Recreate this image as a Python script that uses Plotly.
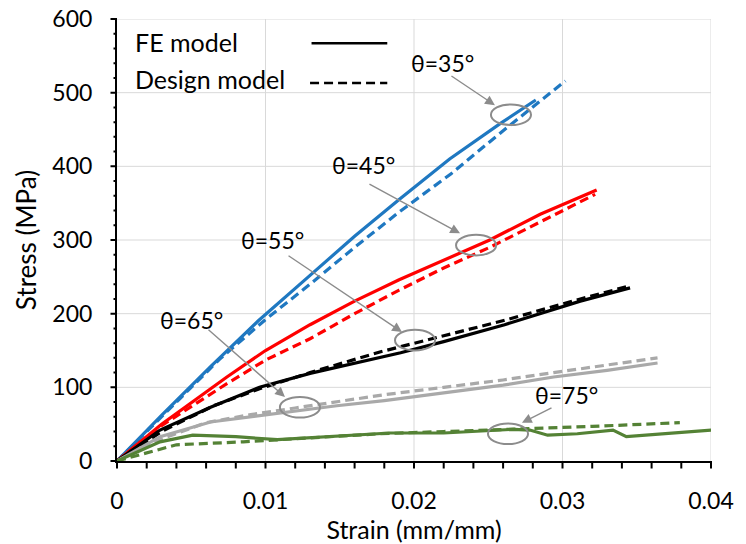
import plotly.graph_objects as go

# ---------------- data ----------------
fe35_x = [0, 0.003, 0.0063, 0.0095, 0.013, 0.016, 0.019, 0.0224, 0.0258, 0.0282]
fe35_y = [0, 62, 128, 190, 252, 305, 355, 410, 458, 490]
dm35_x = [0, 0.0035, 0.0069, 0.010, 0.013, 0.016, 0.019, 0.0225, 0.0258, 0.0302]
dm35_y = [0, 70, 138, 192, 240, 290, 338, 390, 445, 516]

fe45_x = [0, 0.003, 0.0074, 0.010, 0.013, 0.016, 0.019, 0.022, 0.0251, 0.0285, 0.0323]
fe45_y = [0, 50, 114, 150, 185, 217, 246, 273, 300, 335, 368]
dm45_x = [0, 0.003, 0.0074, 0.010, 0.013, 0.016, 0.019, 0.022, 0.0251, 0.0285, 0.0322]
dm45_y = [0, 48, 105, 137, 166, 200, 232, 262, 290, 325, 362]

fe55_x = [0, 0.0029, 0.0063, 0.0096, 0.013, 0.0177, 0.0191, 0.022, 0.0261, 0.0312, 0.03455]
fe55_y = [0, 42, 73, 100, 119, 141, 147, 162, 185, 217, 235]
dm55_x = [0, 0.003, 0.0065, 0.0096, 0.013, 0.0177, 0.022, 0.0261, 0.0312, 0.0344]
dm55_y = [0, 40, 75, 98, 120, 148, 170, 191, 220, 237]

fe65_x = [0, 0.0029, 0.0063, 0.0108, 0.0148, 0.018, 0.022, 0.026, 0.0294, 0.033, 0.0364]
fe65_y = [0, 33, 53, 65, 75, 82, 92, 103, 114, 123, 133]
dm65_x = [0, 0.003, 0.006, 0.009, 0.012, 0.018, 0.022, 0.026, 0.0294, 0.033, 0.0364]
dm65_y = [0, 30, 52, 63, 72, 90, 100, 110, 120, 130, 140]

fe75_x = [0, 0.0029, 0.0051, 0.008, 0.0108, 0.0145, 0.0184, 0.022, 0.0267, 0.0278,
          0.029, 0.031, 0.0334, 0.0343, 0.037, 0.0401]
fe75_y = [0, 26, 35, 33, 29, 33, 38, 38, 43, 42, 35, 37, 42, 33, 37, 42]
dm75_x = [0, 0.004, 0.0085, 0.013, 0.0177, 0.022, 0.0267, 0.032, 0.0379]
dm75_y = [0, 22, 26, 31, 37, 40, 43, 47, 52]

x_ticks = [0, 0.01, 0.02, 0.03, 0.04]
x_tick_labels = ["0", "0.01", "0.02", "0.03", "0.04"]
y_ticks = [0, 100, 200, 300, 400, 500, 600]
y_tick_labels = ["0", "100", "200", "300", "400", "500", "600"]
x_minor_step = 0.002
y_minor_step = 20

angle_labels = ["θ=35°", "θ=45°", "θ=55°", "θ=65°", "θ=75°"]

FONT = "Lato"
BLUE = "#1F78C1"
RED = "#FF0000"
BLACK = "#000000"
GRAY = "#A9A9A9"
GREEN = "#548235"
GRID = "#D9D9D9"

series = [
    (fe35_x, fe35_y, dm35_x, dm35_y, BLUE),
    (fe45_x, fe45_y, dm45_x, dm45_y, RED),
    (fe55_x, fe55_y, dm55_x, dm55_y, BLACK),
    (fe65_x, fe65_y, dm65_x, dm65_y, GRAY),
    (fe75_x, fe75_y, dm75_x, dm75_y, GREEN),
]


def minor_positions(majors, step):
    n = int(round((majors[-1] - majors[0]) / step))
    return [round(majors[0] + i * step, 6) for i in range(n + 1)]


x_minor = minor_positions(x_ticks, x_minor_step)
y_minor = minor_positions(y_ticks, y_minor_step)

fig = go.Figure()
for fx, fy, dx, dy, col in series:
    fig.add_trace(go.Scatter(x=dx, y=dy, mode="lines",
                             line=dict(color=col, width=3.2, dash="9px,5px"),
                             showlegend=False))
    fig.add_trace(go.Scatter(x=fx, y=fy, mode="lines",
                             line=dict(color=col, width=3.2),
                             showlegend=False))

# annotation geometry (layout, data coordinates)
text_pos = [(0.02195, 540), (0.01663, 402), (0.0105, 300), (0.00505, 191), (0.0303, 90)]
arrow_start = [(0.02242, 524), (0.0169, 377), (0.01145, 280), (0.00606, 180), (0.02936, 73)]
arrow_tip = [(0.02545, 483), (0.0231, 309), (0.01919, 175), (0.01131, 87), (0.02727, 52)]
ellipse_c = [(0.02653, 470), (0.02418, 293), (0.02007, 164), (0.01232, 73), (0.02633, 37)]
ew, eh = 0.00135, 14

shapes = []
annotations = []

# gridlines at major ticks
for v in x_ticks[1:]:
    shapes.append(dict(type="line", xref="x", yref="paper", x0=v, x1=v, y0=0, y1=1,
                       line=dict(color=GRID, width=1), layer="below"))
for v in y_ticks[1:]:
    shapes.append(dict(type="line", xref="paper", yref="y", x0=0, x1=1, y0=v, y1=v,
                       line=dict(color=GRID, width=1), layer="below"))

# tick marks (outside), drawn as short annotation arrows (never clipped)
for v in x_minor:
    annotations.append(dict(x=v, y=0, xref="x", yref="y", ax=0, ay=9, axref="pixel",
                            ayref="pixel", text="", showarrow=True, arrowhead=0,
                            arrowwidth=2, arrowcolor="#000", standoff=0, startstandoff=0))
for v in y_minor:
    ln = 8 if any(abs(v - m) < 1e-6 for m in y_ticks) else 5
    annotations.append(dict(x=0, y=v, xref="x", yref="y", ax=-ln, ay=0, axref="pixel",
                            ayref="pixel", text="", showarrow=True, arrowhead=0,
                            arrowwidth=2, arrowcolor="#000", standoff=0, startstandoff=0))

for lab, tp, st, tip, ec in zip(angle_labels, text_pos, arrow_start, arrow_tip, ellipse_c):
    annotations.append(dict(x=tp[0], y=tp[1], xref="x", yref="y", text=lab,
                            showarrow=False, font=dict(family=FONT, size=23, color="#000")))
    annotations.append(dict(x=tip[0], y=tip[1], ax=st[0], ay=st[1], xref="x", yref="y",
                            axref="x", ayref="y", text="", showarrow=True,
                            arrowhead=2, arrowsize=1.4, arrowwidth=1.4, arrowcolor="#8C8C8C"))
    shapes.append(dict(type="circle", xref="x", yref="y",
                       x0=ec[0] - ew, x1=ec[0] + ew, y0=ec[1] - eh, y1=ec[1] + eh,
                       line=dict(color="#8C8C8C", width=2)))

# custom legend
annotations.append(dict(x=0.0011, y=569, xref="x", yref="y", xanchor="left", text="FE model",
                        showarrow=False, font=dict(family=FONT, size=25, color="#000")))
annotations.append(dict(x=0.0011, y=519, xref="x", yref="y", xanchor="left", text="Design model",
                        showarrow=False, font=dict(family=FONT, size=25, color="#000")))
shapes.append(dict(type="line", xref="x", yref="y", x0=0.0131, x1=0.0182, y0=567, y1=567,
                   line=dict(color="#000", width=2.5)))
shapes.append(dict(type="line", xref="x", yref="y", x0=0.0130, x1=0.0182, y0=513, y1=513,
                   line=dict(color="#000", width=2.5, dash="9px,5px")))

fig.update_layout(
    width=746, height=544,
    margin=dict(l=109, r=43, t=11, b=91, autoexpand=False),
    paper_bgcolor="white", plot_bgcolor="white",
    font=dict(family=FONT, size=22, color="#000"),
    shapes=shapes, annotations=annotations, showlegend=False,
)
fig.update_xaxes(
    range=[0, 0.04], tickmode="array", tickvals=x_ticks, ticktext=x_tick_labels,
    showline=True, linecolor="#000", linewidth=2, automargin=False,
    ticks="", showgrid=False, zeroline=False,
    tickfont=dict(family=FONT, size=23), ticklabelstandoff=18, ticklabeloverflow="allow",
    title=dict(text="Strain (mm/mm)", font=dict(family=FONT, size=25), standoff=0),
)
fig.update_yaxes(
    range=[0, 600], tickmode="array", tickvals=y_ticks, ticktext=y_tick_labels,
    showline=True, linecolor="#000", linewidth=2, automargin=False,
    ticks="", showgrid=False, zeroline=False,
    tickfont=dict(family=FONT, size=23), ticklabelstandoff=18, ticklabeloverflow="allow",
    title=dict(text="Stress (MPa)", font=dict(family=FONT, size=26), standoff=8),
)

fig.write_html("out.html")
